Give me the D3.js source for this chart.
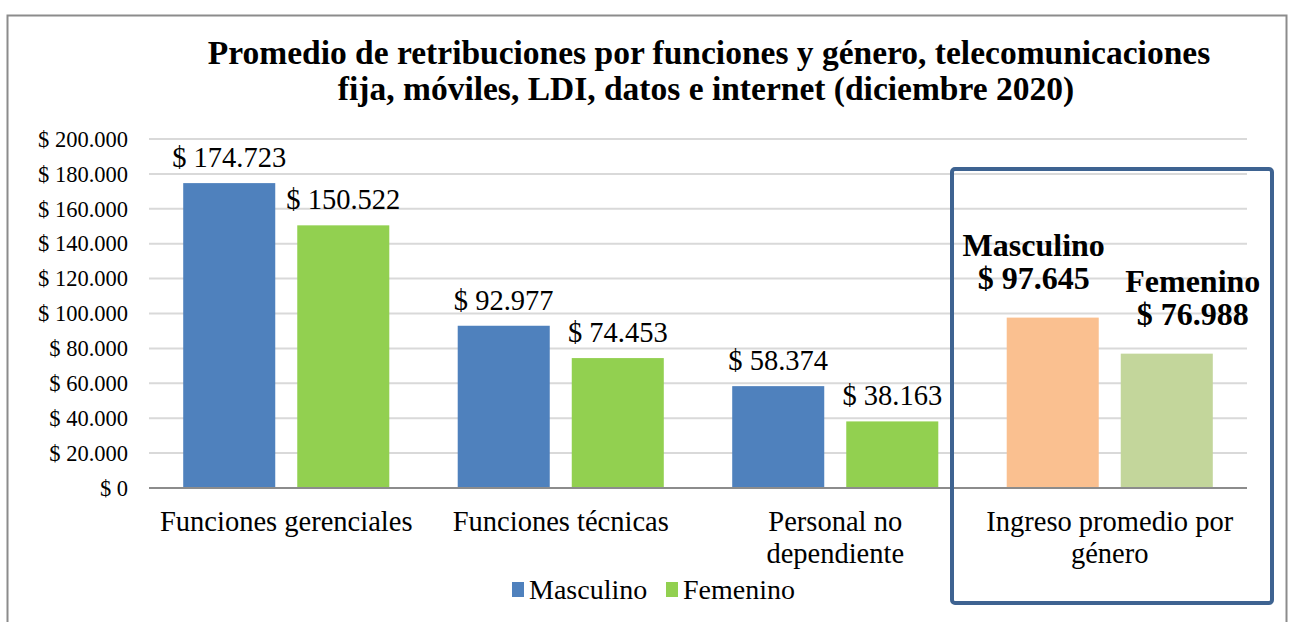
<!DOCTYPE html>
<html>
<head>
<meta charset="utf-8">
<script src="https://cdn.jsdelivr.net/npm/d3@7"></script>
<style>
  body { margin: 0; background: #fff; }
  text { font-family: "Liberation Serif", "DejaVu Serif", serif; fill: #000; }
</style>
</head>
<body>
<div id="chart"></div>
<script>
const categories = ["Funciones gerenciales", "Funciones técnicas", "Personal no dependiente", "Ingreso promedio por género"];
const categoryLines = [["Funciones gerenciales"], ["Funciones técnicas"], ["Personal no", "dependiente"], ["Ingreso promedio por", "género"]];
const series = ["Masculino", "Femenino"];
const masculino = [174723, 92977, 58374, 97645];
const femenino = [150522, 74453, 38163, 76988];
const yTicks = [0, 20000, 40000, 60000, 80000, 100000, 120000, 140000, 160000, 180000, 200000];
const titleLines = [
  "Promedio de retribuciones por funciones y género, telecomunicaciones",
  "fija, móviles, LDI, datos e internet (diciembre 2020)"
];

(() => {
  const W = 1290, H = 622;
  const margin = { top: 139, right: 43, bottom: 134, left: 149 },
      width = W - margin.left - margin.right,
      height = H - margin.top - margin.bottom;

  const svg = d3.select("#chart")
    .append("svg")
    .attr("width", W)
    .attr("height", H);

  // outer frame
  svg.append("rect")
    .attr("x", 7.5).attr("y", 15.5)
    .attr("width", 1279).attr("height", 620)
    .attr("fill", "none")
    .attr("stroke", "#8c8c8c")
    .attr("stroke-width", 2);

  svg.selectAll(".title")
    .data(titleLines)
    .enter().append("text")
    .attr("x", (d, i) => i ? 706 : 709)
    .attr("y", (d, i) => 64 + i * 36)
    .attr("text-anchor", "middle")
    .style("font-size", "33.5px")
    .style("font-weight", "bold")
    .text(d => d);

  const g = svg.append("g")
    .attr("transform", `translate(${margin.left},${margin.top})`);

  const x0 = d3.scaleBand().domain(categories).range([0, width]).padding(0);
  const x1 = d3.scaleBand().domain(series).range([0, x0.bandwidth()])
    .paddingInner(0.193).paddingOuter(0.3);
  const y = d3.scaleLinear().domain([0, 200000]).range([height, 0]);

  const fmt = v => "$ " + d3.format(",")(v).replace(/,/g, ".");

  // gridlines
  g.append("g")
    .selectAll("line")
    .data(yTicks.slice(1))
    .enter().append("line")
    .attr("x1", 0).attr("x2", width)
    .attr("y1", d => y(d)).attr("y2", d => y(d))
    .attr("stroke", "#d9d9d9")
    .attr("stroke-width", 2);

  const yAxis = g.append("g")
    .call(d3.axisLeft(y).tickValues(yTicks).tickSize(0).tickPadding(21).tickFormat(fmt));
  yAxis.select(".domain").remove();
  yAxis.selectAll("text")
    .style("font-family", "Liberation Serif")
    .style("font-size", "22.5px")
    .attr("fill", "#000");

  const colors = [
    ["#4f81bd", "#92d050"],
    ["#4f81bd", "#92d050"],
    ["#4f81bd", "#92d050"],
    ["#fac090", "#c3d69b"]
  ];

  const rows = [];
  categories.forEach((c, i) => {
    rows.push({ cat: c, ci: i, s: "Masculino", si: 0, v: masculino[i] });
    rows.push({ cat: c, ci: i, s: "Femenino", si: 1, v: femenino[i] });
  });

  g.selectAll(".bar")
    .data(rows)
    .enter().append("rect")
    .attr("x", d => x0(d.cat) + x1(d.s))
    .attr("y", d => y(d.v))
    .attr("width", x1.bandwidth())
    .attr("height", d => height - y(d.v))
    .attr("fill", d => colors[d.ci][d.si]);

  // regular value labels
  g.selectAll(".lbl")
    .data(rows.filter(d => d.ci < 3))
    .enter().append("text")
    .attr("x", d => x0(d.cat) + x1(d.s) + x1.bandwidth() / 2)
    .attr("y", d => y(d.v) - 16)
    .attr("text-anchor", "middle")
    .style("font-size", "28.5px")
    .text(d => fmt(d.v));

  // highlighted average labels
  const avg = rows.filter(d => d.ci === 3);
  const shift = [-19, 26];
  avg.forEach(d => {
    const cx = x0(d.cat) + x1(d.s) + x1.bandwidth() / 2 + shift[d.si];
    const t = g.append("text")
      .attr("text-anchor", "middle")
      .style("font-size", "32px")
      .style("font-weight", "bold");
    t.append("tspan").attr("x", cx).attr("y", y(d.v) - 62).text(d.s);
    t.append("tspan").attr("x", cx).attr("y", y(d.v) - 29).text(fmt(d.v));
  });

  // x axis
  g.append("line")
    .attr("x1", 0).attr("x2", width)
    .attr("y1", height).attr("y2", height)
    .attr("stroke", "#8c8c8c")
    .attr("stroke-width", 2);

  categories.forEach((c, i) => {
    const t = g.append("text")
      .attr("text-anchor", "middle")
      .style("font-size", "28.5px");
    categoryLines[i].forEach((line, j) => {
      t.append("tspan")
        .attr("x", x0(c) + x0.bandwidth() / 2)
        .attr("y", height + 43 + j * 32)
        .text(line);
    });
  });

  // highlight box
  svg.append("rect")
    .attr("x", 952).attr("y", 169)
    .attr("width", 320).attr("height", 434)
    .attr("rx", 3)
    .attr("fill", "none")
    .attr("stroke", "#3e6391")
    .attr("stroke-width", 4);

  // legend
  const legend = svg.append("g").attr("transform", "translate(512,599)");
  const legendX = [0, 154];
  series.forEach((s, i) => {
    legend.append("rect")
      .attr("x", legendX[i]).attr("y", -17)
      .attr("width", 12).attr("height", 15)
      .attr("fill", colors[0][i]);
    legend.append("text")
      .attr("x", legendX[i] + 17)
      .attr("y", 0)
      .style("font-size", "28px")
      .text(s);
  });
})();
</script>
</body>
</html>
